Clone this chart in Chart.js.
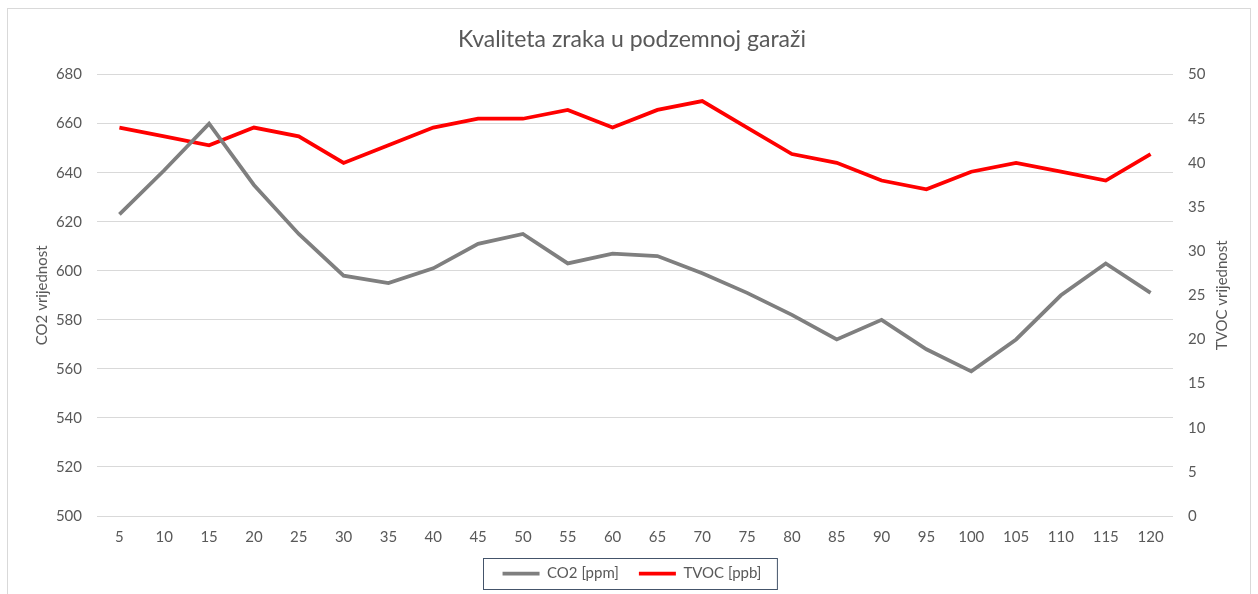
<!DOCTYPE html>
<html>
<head>
<meta charset="utf-8">
<script src="https://cdn.jsdelivr.net/npm/chart.js@4/dist/chart.umd.min.js"></script>
<style>
  body { margin: 0; background: #fff; }
  #frame { position: absolute; left: 7px; top: 8px; width: 1242px; height: 600px; border: 1px solid #d9d9d9; }
  #wrap { position: absolute; left: 8px; top: 9px; width: 1241px; height: 585px; }
</style>
</head>
<body>
<div id="frame"></div>
<div id="wrap"><canvas id="airQuality"></canvas></div>
<script>
// data
var minutes = ["5", "10", "15", "20", "25", "30", "35", "40", "45", "50", "55", "60",
               "65", "70", "75", "80", "85", "90", "95", "100", "105", "110", "115", "120"];
var co2 = [623, 641, 660, 635, 615, 598, 595, 601, 611, 615, 603, 607,
           606, 599, 591, 582, 572, 580, 568, 559, 572, 590, 603, 591];
var tvoc = [44, 43, 42, 44, 43, 40, 42, 44, 45, 45, 46, 44,
            46, 47, 44, 41, 40, 38, 37, 39, 40, 39, 38, 41];

var textColor = "#595959";
var fontFamily = "Lato, 'Open Sans', sans-serif";
var tickFont = { family: fontFamily, size: 15 };

// thin box round the legend + right axis title read bottom-to-top, like the original
var extras = {
    id: 'extras',
    afterDraw: function(chart) {
        var c = chart.ctx;
        var lg = chart.legend;
        if (lg && lg.legendHitBoxes.length) {
            var boxes = lg.legendHitBoxes;
            var left = boxes[0].left, right = 0, top = boxes[0].top, bottom = 0;
            boxes.forEach(function(b) {
                left = Math.min(left, b.left);
                right = Math.max(right, b.left + b.width);
                top = Math.min(top, b.top);
                bottom = Math.max(bottom, b.top + b.height);
            });
            c.save();
            c.strokeStyle = "#44546a";
            c.lineWidth = 1;
            c.strokeRect(Math.round(left - 20) + 0.5, Math.round(top - 8) + 0.5, right - left + 35, bottom - top + 16);
            c.restore();
        }
        var s = chart.scales.y1;
        c.save();
        c.translate(s.right - 9, (chart.chartArea.top + chart.chartArea.bottom) / 2);
        c.rotate(-Math.PI / 2);
        c.fillStyle = textColor;
        c.font = "15px " + fontFamily;
        c.textAlign = "center";
        c.textBaseline = "middle";
        c.fillText("TVOC vrijednost", 0, 0);
        c.restore();
    }
};

var ctx = document.getElementById('airQuality').getContext('2d');

var airChart = new Chart(ctx, {
    type: 'line',
    data: {
        labels: minutes,
        datasets: [{
            label: "CO2 [ppm]",
            data: co2,
            yAxisID: 'y',
            borderColor: "#7f7f7f",
            backgroundColor: "#7f7f7f",
            borderWidth: 3.75,
            pointRadius: 0,
            tension: 0
        }, {
            label: "TVOC [ppb]",
            data: tvoc,
            yAxisID: 'y1',
            borderColor: "#ff0000",
            backgroundColor: "#ff0000",
            borderWidth: 3.75,
            pointRadius: 0,
            tension: 0
        }]
    },
    options: {
        responsive: true,
        maintainAspectRatio: false,
        animation: false,
        layout: { padding: { left: 25, right: 18, top: 17, bottom: 3 } },
        plugins: {
            title: {
                display: true,
                text: "Kvaliteta zraka u podzemnoj garaži",
                color: textColor,
                font: { family: fontFamily, size: 23, weight: 'normal' },
                padding: { top: 0, bottom: 21 }
            },
            legend: {
                position: 'bottom',
                labels: {
                    usePointStyle: true,
                    pointStyle: 'line',
                    pointStyleWidth: 37,
                    boxWidth: 37,
                    color: textColor,
                    font: tickFont,
                    padding: 20
                }
            },
            tooltip: { enabled: false }
        },
        scales: {
            x: {
                offset: true,
                grid: { display: false, drawTicks: false },
                border: { display: false },
                ticks: { color: textColor, font: tickFont, padding: 12, maxRotation: 0 },
                afterFit: function(scale) { scale.height = 30; }
            },
            y: {
                position: 'left',
                min: 500,
                max: 680,
                ticks: { stepSize: 20, color: textColor, font: tickFont, padding: 15 },
                grid: { color: "#d9d9d9", lineWidth: 1, drawTicks: false },
                border: { display: false },
                title: { display: true, text: "CO2 vrijednost", color: textColor, font: tickFont, padding: { top: 0, bottom: 6 } },
                afterFit: function(scale) { scale.width = 64; }
            },
            y1: {
                position: 'right',
                min: 0,
                max: 50,
                ticks: { stepSize: 5, color: textColor, font: tickFont, padding: 15 },
                grid: { drawOnChartArea: false, drawTicks: false },
                border: { display: false },
                title: { display: true, text: "TVOC vrijednost", color: "rgba(0,0,0,0)", font: tickFont, padding: { top: 0, bottom: 6 } },
                afterFit: function(scale) { scale.width = 58; }
            }
        }
    },
    plugins: [extras]
});
</script>
</body>
</html>
